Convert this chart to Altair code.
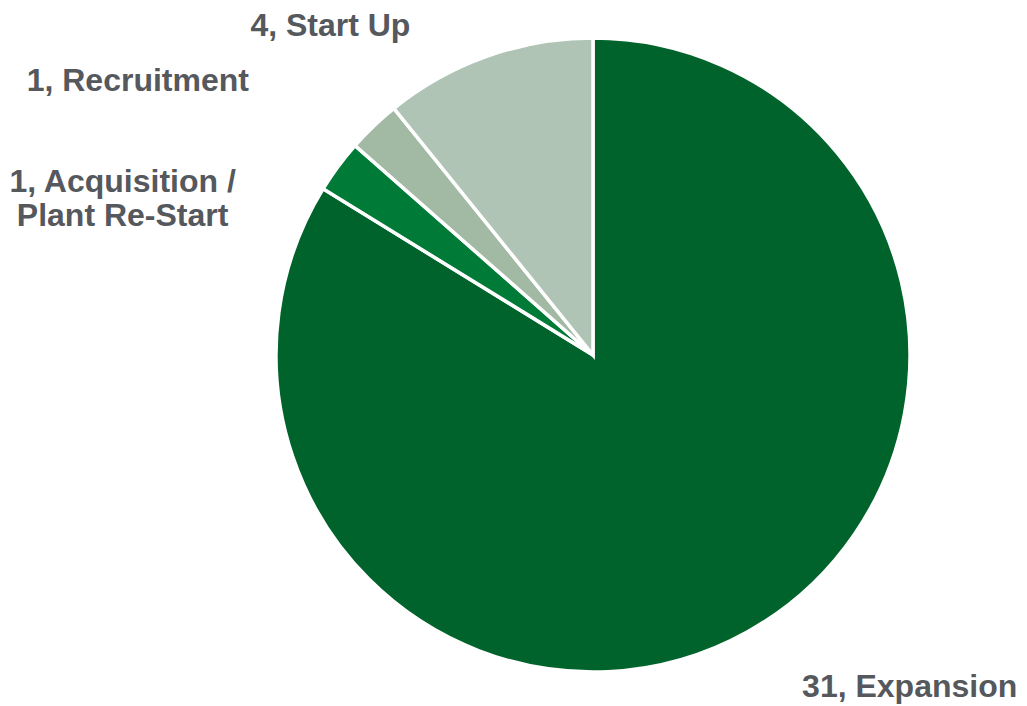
import math
import altair as alt
import pandas as pd

categories = ["Expansion", "Acquisition / Plant Re-Start", "Recruitment", "Start Up"]
values = [31, 1, 1, 4]
label_lines = [["31, Expansion"], ["1, Acquisition /", "Plant Re-Start"], ["1, Recruitment"], ["4, Start Up"]]
colors = ["#00632B", "#007A37", "#A2B9A3", "#AFC4B4"]
# label offsets from the slice's mid-angle anchor (dx, dy)
offsets = [(146, 26), (-189, 35), (-213, -21), (-146, 1)]

total = sum(values)
df = pd.DataFrame({
    "category": categories,
    "value": values,
    "order": list(range(len(categories))),
    "label": label_lines,
})

base = alt.Chart(df)

pie = base.mark_arc(outerRadius=317, stroke="white", strokeWidth=3.5).encode(
    theta=alt.Theta("value:Q", stack=True),
    color=alt.Color("category:N", scale=alt.Scale(domain=categories, range=colors), legend=None),
    order=alt.Order("order:Q"),
)

layers = [pie]
for cat, (dx, dy) in zip(categories, offsets):
    t = (
        base.transform_window(cum="sum(value)", sort=[alt.SortField("order")], frame=[None, 0])
        .transform_calculate(mid="datum.cum - datum.value / 2")
        .transform_filter(alt.datum.category == cat)
        .mark_text(
            radius=350, dx=dx, dy=dy, align="center", baseline="middle",
            font="Liberation Sans", fontWeight="bold", fontSize=32, lineHeight=34,
            color="#55585C",
        )
        .encode(
            theta=alt.Theta("mid:Q", scale=alt.Scale(domain=[0, total], range=[0, 2 * math.pi])),
            text="label",
        )
    )
    layers.append(t)

chart = (
    alt.layer(*layers)
    .resolve_scale(theta="independent")
    .properties(width=852, height=686, padding={"left": 159, "top": 4, "right": 0, "bottom": 8},
                autosize=alt.AutoSizeParams(type="none"), background="white")
    .configure_view(stroke=None)
)

chart.save("out.html", embed_options={"renderer": "svg", "actions": False})
